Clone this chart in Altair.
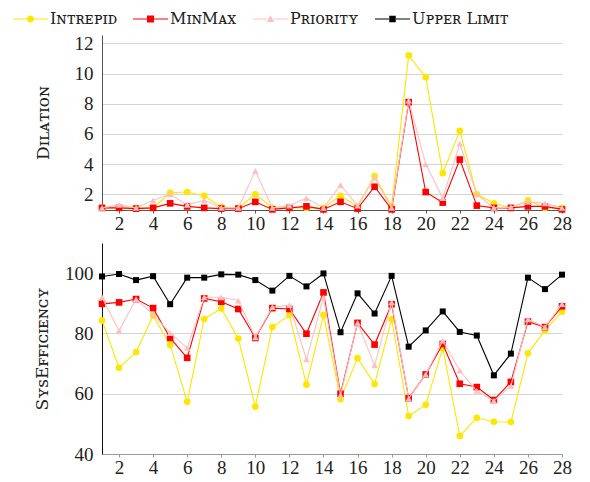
import altair as alt
import pandas as pd

x_vals = list(range(1, 29))
series = ["Iɴᴛʀᴇᴘɪᴅ", "MɪɴMᴀx", "Pʀɪᴏʀɪᴛʏ", "Uᴘᴘᴇʀ Lɪᴍɪᴛ"]
colors = ["#ffe600", "#ff0000", "#ffbfbf", "#000000"]
markers = ["circle", "square", "triangle-up", "square"]
marker_sizes = [44, 44, 44, 36]

dil_intrepid = [1.1, 1.1, 1.1, 1.1, 2.1, 2.15, 1.9, 1.15, 1.1, 2.0, 1.1, 1.1, 1.1, 1.1,
                1.9, 1.2, 3.2, 1.2, 11.2, 9.75, 3.4, 6.2, 2.0, 1.4, 1.1, 1.6, 1.1, 1.1]
dil_minmax = [1.1, 1.1, 1.05, 1.1, 1.4, 1.2, 1.1, 1.05, 1.05, 1.5, 1.0, 1.1, 1.2, 1.0,
              1.5, 1.05, 2.5, 1.0, 8.1, 2.15, 1.45, 4.3, 1.25, 1.1, 1.1, 1.2, 1.2, 1.0]
dil_priority = [1.1, 1.3, 1.1, 1.6, 2.0, 1.3, 1.6, 1.1, 1.1, 3.55, 1.1, 1.25, 1.75, 1.1,
                2.6, 1.25, 3.1, 1.1, 8.2, 4.0, 1.75, 5.35, 2.0, 1.1, 1.15, 1.5, 1.4, 1.1]

eff_intrepid = [84.3, 68.6, 73.8, 85.9, 76.2, 57.3, 84.8, 88.3, 78.3, 55.7, 82.1, 86.1, 63.0, 86.1,
                58.2, 71.8, 63.2, 84.7, 52.6, 56.3, 75.1, 46.0, 52.0, 50.7, 50.6, 73.4, 81.0, 87.2]
eff_minmax = [89.8, 90.3, 91.4, 88.4, 78.5, 71.9, 91.6, 90.5, 88.1, 78.5, 88.4, 88.1, 79.9, 93.6,
              60.0, 83.5, 76.3, 89.7, 58.5, 66.4, 76.5, 63.3, 62.2, 57.9, 63.9, 83.9, 82.1, 89.0]
eff_priority = [92.0, 80.9, 91.4, 86.3, 80.1, 75.2, 92.0, 92.0, 90.9, 78.7, 88.7, 89.4, 71.4, 92.0,
                59.5, 83.5, 69.4, 90.3, 58.4, 66.4, 77.6, 67.7, 60.9, 57.6, 62.6, 84.7, 82.1, 89.7]
eff_upper = [98.9, 99.7, 97.7, 99.0, 89.7, 98.5, 98.5, 99.6, 99.5, 97.7, 94.2, 99.1, 95.6, 99.9,
             80.4, 93.3, 86.6, 99.1, 75.6, 81.0, 87.3, 80.5, 79.3, 66.1, 73.3, 98.5, 94.7, 99.5]

dil_series = [dil_intrepid, dil_minmax, dil_priority]
eff_series = [eff_intrepid, eff_minmax, eff_priority, eff_upper]

# legend symbols: a short line with the marker in its middle
LINE = "M-1,-0.12 L1.8,-0.12 L1.8,0.12 L-1,0.12 Z M3.2,-0.12 L6,-0.12 L6,0.12 L3.2,0.12 Z "
legend_paths = [
    LINE + "M1.8,0 A0.7,0.7 0 1,1 3.2,0 A0.7,0.7 0 1,1 1.8,0 Z",
    LINE + "M1.8,-0.7 L3.2,-0.7 L3.2,0.7 L1.8,0.7 Z",
    LINE + "M2.5,-0.75 L3.25,0.6 L1.75,0.6 Z",
    LINE + "M1.85,-0.65 L3.15,-0.65 L3.15,0.65 L1.85,0.65 Z",
]

FONT = "Liberation Serif"
TFONT = "DejaVu Serif"

dil_df = pd.DataFrame([
    {"x": x, "v": v, "series": series[i]}
    for i, vals in enumerate(dil_series) for x, v in zip(x_vals, vals)
])
eff_df = pd.DataFrame([
    {"x": x, "v": v, "series": series[i]}
    for i, vals in enumerate(eff_series) for x, v in zip(x_vals, vals)
])

x_ticks = list(range(2, 29, 2))


def panel(df, n, ydomain, yticks, ytitle, xaxis_color, yaxis_color, title_pad, height, with_legend):
    xenc = alt.X("x:Q", scale=alt.Scale(domain=[1, 28], nice=False, zero=False),
                 axis=alt.Axis(values=x_ticks, grid=False, title=None, domainColor=xaxis_color,
                               tickColor=xaxis_color, tickSize=3, labelFont=FONT,
                               labelFontSize=19, labelColor="#222", labelPadding=1,
                               labelFlush=False))
    yenc = alt.Y("v:Q", scale=alt.Scale(domain=ydomain, nice=False, zero=False),
                 axis=alt.Axis(values=yticks, grid=True, gridColor="#d4d4d4", title=ytitle,
                               domainColor=yaxis_color, tickColor=yaxis_color, tickSize=0,
                               labelFont=FONT, labelFontSize=19, labelColor="#222",
                               labelPadding=9, titleFont=TFONT, titleFontSize=17,
                               titleFontWeight="normal", titleColor="#222",
                               titlePadding=title_pad))
    base = alt.Chart(df)
    layers = []
    if with_legend:
        layers.append(
            base.mark_point(filled=True, opacity=1).encode(
                x=xenc, y=yenc,
                color=alt.Color("series:N", scale=alt.Scale(domain=series, range=colors),
                                legend=alt.Legend(
                                    orient="none", legendX=-92, legendY=-24,
                                    direction="horizontal", columns=4, title=None,
                                    symbolSize=100, symbolStrokeWidth=0,
                                    labelOffset=24, columnPadding=13,
                                    labelFont=TFONT, labelFontSize=16,
                                    labelColor="#222", labelLimit=400)),
                shape=alt.Shape("series:N", scale=alt.Scale(domain=series, range=legend_paths)),
            ).transform_filter("false")
        )
    for i in range(n):
        sub = base.transform_filter(alt.datum.series == series[i])
        layers.append(sub.mark_line(color=colors[i], strokeWidth=1.1).encode(x=xenc, y=yenc))
        layers.append(sub.mark_point(shape=markers[i], filled=True, opacity=1,
                                     color=colors[i], size=marker_sizes[i])
                      .encode(x=xenc, y=yenc))
    return alt.layer(*layers).properties(width=460, height=height)


top = panel(dil_df, 3, [0.96, 12.55], [2, 4, 6, 8, 10, 12], "Dɪʟᴀᴛɪᴏɴ",
            "#555", "#555", 22, 175, True)
bottom = panel(eff_df, 4, [40, 110], [40, 60, 80, 100], "SʏꜱEꜰꜰɪᴄɪᴇɴᴄʏ",
               "#999", "#111", 13, 211, False)

chart = alt.vconcat(top, bottom, spacing=10).properties(
    padding={"left": 2, "top": 3, "right": 5, "bottom": 0}
).configure_view(stroke=None)

chart.save("out.html", embed_options={"renderer": "svg", "actions": False})
